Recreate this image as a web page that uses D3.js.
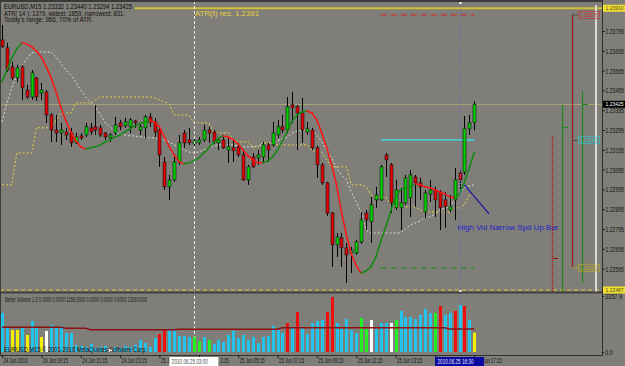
<!DOCTYPE html>
<html>
<head>
<meta charset="utf-8">
<script src="https://cdnjs.cloudflare.com/ajax/libs/d3/7.8.5/d3.min.js"></script>
<style>
  body { margin: 0; background: #7f7e79; }
  svg { display: block; }
  text { font-family: "Liberation Sans", Arial, sans-serif; }
</style>
</head>
<body>
<div id="chart"></div>
<script>
// EURUSD M15, one bar every 15 minutes from 24 Jun 2010 17:15
var opens = [1.23750,1.23710,1.23614,1.23558,1.23614,1.23497,1.23462,1.23558,1.23482,1.23487,
  1.23371,1.23295,1.23280,1.23285,1.23280,1.23230,1.23265,1.23270,1.23306,1.23311,
  1.23306,1.23280,1.23255,1.23280,1.23331,1.23316,1.23311,1.23341,1.23295,1.23306,
  1.23361,1.23336,1.23295,1.23134,1.23008,1.23043,1.23134,1.23280,1.23245,1.23225,
  1.23230,1.23245,1.23295,1.23285,1.23230,1.23245,1.23194,1.23205,1.23210,1.23169,
  1.23043,1.23159,1.23154,1.23159,1.23220,1.23220,1.23270,1.23311,1.23295,1.23422,
  1.23412,1.23381,1.23285,1.23295,1.23205,1.23119,1.23028,1.22876,1.22715,1.22750,
  1.22700,1.22674,1.22674,1.22730,1.22876,1.22831,1.22942,1.22942,1.23169,1.23119,
  1.22902,1.22902,1.22927,1.22952,1.23058,1.23028,1.22881,1.22972,1.22992,1.22982,
  1.22942,1.22891,1.22942,1.23078,1.23083,1.23301,1.23332];
var highs = [1.23826,1.23735,1.23639,1.23624,1.23624,1.23523,1.23598,1.23563,1.23533,1.23497,
  1.23381,1.23371,1.23331,1.23306,1.23306,1.23280,1.23280,1.23331,1.23331,1.23422,
  1.23321,1.23285,1.23280,1.23361,1.23346,1.23356,1.23356,1.23346,1.23331,1.23371,
  1.23381,1.23356,1.23306,1.23159,1.23068,1.23159,1.23270,1.23295,1.23306,1.23260,
  1.23260,1.23321,1.23311,1.23295,1.23260,1.23270,1.23255,1.23245,1.23230,1.23194,
  1.23119,1.23179,1.23194,1.23235,1.23230,1.23336,1.23346,1.23371,1.23462,1.23487,
  1.23422,1.23457,1.23336,1.23306,1.23215,1.23129,1.23033,1.22881,1.22775,1.22775,
  1.22725,1.22705,1.22740,1.22881,1.22891,1.22957,1.23008,1.23119,1.23179,1.23129,
  1.23043,1.23003,1.23068,1.23093,1.23068,1.23053,1.22992,1.23043,1.23008,1.22992,
  1.22982,1.22967,1.23104,1.23093,1.23366,1.23371,1.23440];
var lows = [1.23710,1.23588,1.23548,1.23538,1.23447,1.23452,1.23447,1.23442,1.23447,1.23331,
  1.23235,1.23235,1.23220,1.23245,1.23210,1.23225,1.23245,1.23260,1.23270,1.23270,
  1.23260,1.23245,1.23235,1.23270,1.23295,1.23306,1.23280,1.23306,1.23270,1.23255,
  1.23311,1.23260,1.23109,1.22992,1.22942,1.23033,1.23119,1.23205,1.23220,1.23210,
  1.23220,1.23235,1.23230,1.23225,1.23194,1.23200,1.23129,1.23134,1.23159,1.23038,
  1.23018,1.23104,1.23119,1.23129,1.23134,1.23210,1.23255,1.23280,1.23280,1.23331,
  1.23194,1.23230,1.23270,1.23194,1.23053,1.23018,1.22861,1.22604,1.22654,1.22604,
  1.22523,1.22573,1.22664,1.22720,1.22790,1.22725,1.22902,1.22937,1.23058,1.22876,
  1.22891,1.22790,1.22917,1.22856,1.22907,1.22942,1.22851,1.22932,1.22856,1.22790,
  1.22801,1.22881,1.22841,1.22992,1.23068,1.23270,1.23294];
var closes = [1.23715,1.23598,1.23558,1.23609,1.23508,1.23462,1.23583,1.23462,1.23497,1.23371,
  1.23295,1.23280,1.23295,1.23270,1.23230,1.23260,1.23255,1.23311,1.23285,1.23295,
  1.23270,1.23260,1.23270,1.23321,1.23311,1.23336,1.23346,1.23331,1.23311,1.23361,
  1.23331,1.23285,1.23169,1.23008,1.23043,1.23134,1.23230,1.23230,1.23230,1.23240,
  1.23245,1.23295,1.23280,1.23235,1.23245,1.23205,1.23210,1.23189,1.23169,1.23043,
  1.23109,1.23109,1.23169,1.23220,1.23194,1.23280,1.23311,1.23295,1.23412,1.23407,
  1.23381,1.23295,1.23301,1.23205,1.23119,1.23028,1.22876,1.22715,1.22755,1.22700,
  1.22664,1.22689,1.22730,1.22841,1.22841,1.22917,1.22967,1.23109,1.23144,1.22927,
  1.22992,1.22927,1.23053,1.23068,1.23028,1.23008,1.22977,1.22992,1.22942,1.22902,
  1.22907,1.22907,1.23043,1.23043,1.23301,1.23331,1.23425];

// two-colour moving average (green rising, red falling)
var maValues = [1.23538,1.23598,1.23659,1.23705,1.23735,1.23730,1.23715,1.23694,1.23664,1.23614,
  1.23558,1.23487,1.23407,1.23341,1.23285,1.23240,1.23210,1.23199,1.23205,1.23210,
  1.23220,1.23235,1.23245,1.23260,1.23270,1.23285,1.23301,1.23316,1.23326,1.23336,
  1.23341,1.23336,1.23311,1.23260,1.23210,1.23169,1.23134,1.23124,1.23129,1.23139,
  1.23154,1.23179,1.23205,1.23230,1.23255,1.23265,1.23260,1.23245,1.23225,1.23194,
  1.23164,1.23144,1.23129,1.23129,1.23139,1.23159,1.23194,1.23240,1.23290,1.23341,
  1.23371,1.23386,1.23391,1.23381,1.23346,1.23280,1.23205,1.23119,1.23018,1.22881,
  1.22765,1.22669,1.22609,1.22573,1.22583,1.22604,1.22654,1.22735,1.22806,1.22886,
  1.22957,1.22993,1.23003,1.23008,1.23023,1.23018,1.23008,1.23003,1.22993,1.22982,
  1.22972,1.22957,1.22952,1.22972,1.23033,1.23104,1.23184];

// white dotted band
var whiteBand = [1.23336,1.23432,1.23508,1.23573,1.23619,1.23654,1.23684,1.23689,1.23689,1.23689,
  1.23689,1.23664,1.23629,1.23598,1.23573,1.23538,1.23497,1.23462,1.23437,1.23412,
  1.23371,1.23331,1.23311,1.23285,1.23275,1.23270,1.23265,1.23265,1.23260,1.23260,
  1.23255,1.23255,1.23250,1.23245,1.23235,1.23220,1.23205,1.23194,1.23184,1.23179,
  1.23184,1.23194,1.23205,1.23215,1.23220,1.23220,1.23220,1.23220,1.23215,1.23210,
  1.23210,1.23210,1.23215,1.23220,1.23220,1.23230,1.23240,1.23250,1.23260,1.23280,
  1.23290,1.23295,1.23295,1.23295,1.23270,1.23235,1.23194,1.23154,1.23104,1.23068,
  1.23043,1.22982,1.22932,1.22881,1.22790,1.22775,1.22775,1.22775,1.22775,1.22775,
  1.22775,1.22775,1.22795,1.22816,1.22826,1.22836,1.22856,1.22856,1.22871,1.22891,
  1.22902,1.22907,1.22942,1.22977,1.23003,1.23013,1.23018];

// yellow dotted band
var yellowBand = [1.23018,1.23018,1.23018,1.23179,1.23179,1.23179,1.23179,1.23306,1.23306,1.23306,
  1.23306,1.23346,1.23381,1.23381,1.23381,1.23432,1.23432,1.23432,1.23432,1.23447,
  1.23462,1.23462,1.23462,1.23462,1.23462,1.23462,1.23462,1.23462,1.23462,1.23462,
  1.23462,1.23457,1.23447,1.23437,1.23427,1.23371,1.23371,1.23371,1.23371,1.23331,
  1.23331,1.23331,1.23331,1.23285,1.23280,1.23280,1.23280,1.23245,1.23235,1.23235,
  1.23235,1.23210,1.23210,1.23230,1.23230,1.23230,1.23220,1.23220,1.23220,1.23220,
  1.23220,1.23220,1.23220,1.23194,1.23184,1.23184,1.23144,1.23109,1.23109,1.23109,
  1.23109,1.23018,1.23018,1.23018,1.23008,1.22967,1.22957,1.22957,1.22957,1.22917,
  1.22907,1.22907,1.22907,1.22907,1.22907,1.22891,1.22881,1.22881,1.22881,1.22881,
  1.22881,1.22881,1.22902,1.22902,1.22917,1.22967,1.22967];

// Better Volume histogram
var volumes = [2340,1500,1320,1320,1500,1020,1860,1500,900,1260,
  1620,1500,1560,1140,1140,420,360,300,480,240,
  300,360,180,300,240,360,300,420,720,540,
  300,840,1080,1380,1320,1320,960,960,900,900,
  660,900,720,480,720,600,1020,1260,840,1020,
  720,900,540,900,960,1560,1320,1140,1740,1500,
  2400,1500,1080,1740,1860,1920,2400,3300,1740,1380,
  1980,1320,1140,2040,1380,1920,1380,1740,1740,1740,
  1920,2460,2100,2100,1980,2220,2580,2340,2340,2760,
  2220,2340,2460,2820,2760,1920,1159];
var volTypes = ['c','c','y','y','c','y','c','c','y','w',
  'c','c','c','c','c','c','c','c','c','c',
  'c','c','w','c','c','c','c','c','c','c',
  'c','c','r','r','c','c','c','c','c','g',
  'g','c','g','c','c','c','c','c','c','c',
  'c','c','c','c','c','c','c','c','r','c',
  'r','c','c','c','c','c','r','r','c','c',
  'c','c','c','g','g','w','c','c','c','w',
  'g','c','c','c','c','c','c','c','g','r',
  'c','c','r','c','r','c','y'];
var volAverage = [1480,1480,1480,1480,1480,1480,1480,1480,1480,1480,
  1480,1480,1480,1420,1420,1420,1420,1420,1340,1340,
  1340,1340,1340,1340,1340,1340,1340,1340,1340,1340,
  1340,1340,1340,1340,1340,1340,1360,1360,1360,1360,
  1360,1360,1360,1360,1360,1360,1360,1360,1360,1360,
  1360,1360,1360,1360,1360,1360,1360,1450,1450,1450,
  1450,1450,1450,1450,1450,1450,1450,1450,1450,1450,
  1450,1450,1450,1450,1450,1450,1450,1450,1450,1450,
  1450,1450,1450,1450,1450,1450,1450,1450,1450,1450,
  1450,1380,1380,1380,1380,1380,1380];
var volMax = 3357.9;

// price levels
var priceTicks = [1.22595,1.22695,1.22795,1.22895,1.22995,1.23095,1.23195,1.23295,1.23395,1.23495,1.23595,1.23695,1.23795];
var atrRes = 1.23910;
var supportLevel = 1.22487;
var bidPrice = 1.23425;
var rangeHigh = 1.23876, rangeMid = 1.23245, rangeLow = 1.22599;
// daily range columns on the right: [top, bottom, tick]
var rangeColTop = [1.23265, 1.23422, 1.23876, 1.23492];
var rangeColBottom = [1.22477, 1.22477, 1.22599, 1.22523];
var rangeColTick = [1.22649, 1.23311, 1.23245, 1.23427];
var timeTickBars = [0, 8, 16, 24, 32, 40, 48, 56, 64, 72, 80, 88, 96];
var annoBars = [94, 99], annoPrices = [1.23018, 1.22871];

var W = 625, H = 366;
var plotRight = 602;
var mainTop = 1, mainBottom = 292;
var volBottom = 355;

var startTime = new Date(2010, 5, 24, 17, 15);
var times = opens.map(function (d, i) { return d3.timeMinute.offset(startTime, 15 * i); });
var vLineTime = d3.timeMinute.offset(startTime, 15 * 39);   // 25 Jun 03:00
var nowTime = d3.timeMinute.offset(startTime, 15 * 93);     // 25 Jun 16:30

var x = d3.scaleTime().domain([times[0], times[96]]).range([2, 474.3]);
var y = d3.scaleLinear().domain([1.22595, 1.23795]).range([268.6, 31]);
var yv = d3.scaleLinear().domain([0, volMax]).range([352, 296]);

function cx(t) { return Math.round(x(t)); }

var svg = d3.select('#chart').append('svg')
  .attr('width', W)
  .attr('height', H);

svg.append('rect').attr('width', W).attr('height', H).attr('fill', '#7f7e79');

svg.append('clipPath').attr('id', 'mainClip').append('rect')
  .attr('x', 1).attr('y', mainTop + 1).attr('width', plotRight - 1).attr('height', mainBottom - mainTop - 1);

var main = svg.append('g').attr('clip-path', 'url(#mainClip)');

function addText(parent, str, tx, ty, len, size, color) {
  return parent.append('text')
    .attr('x', tx).attr('y', ty)
    .attr('textLength', len).attr('lengthAdjust', 'spacingAndGlyphs')
    .style('font-size', size + 'px').style('fill', color)
    .text(str);
}
// narrow text squeezed with a transform, for the axis labels
function narrowText(parent, str, tx, ty, sx, size, color) {
  return parent.append('text')
    .attr('transform', 'translate(' + tx + ',' + ty + ') scale(' + sx + ',1)')
    .style('font-size', size + 'px').style('fill', color)
    .text(str);
}

// horizontal level lines
main.append('line')
  .attr('x1', x(times[27])).attr('x2', plotRight)
  .attr('y1', y(atrRes)).attr('y2', y(atrRes))
  .attr('stroke', '#d2c035').attr('stroke-width', 2);
main.append('line')
  .attr('x1', 0).attr('x2', plotRight)
  .attr('y1', y(supportLevel)).attr('y2', y(supportLevel))
  .attr('stroke', '#e8c820').attr('stroke-dasharray', '4,3');
main.append('line')
  .attr('x1', 0).attr('x2', plotRight)
  .attr('y1', Math.round(y(bidPrice)) + 0.5).attr('y2', Math.round(y(bidPrice)) + 0.5)
  .attr('stroke', '#a9a270');
main.append('line')
  .attr('x1', x(times[77])).attr('x2', x(times[96]))
  .attr('y1', y(rangeHigh)).attr('y2', y(rangeHigh))
  .attr('stroke', '#e02020').attr('stroke-dasharray', '6,4');
main.append('line')
  .attr('x1', x(times[77])).attr('x2', x(times[96]))
  .attr('y1', y(rangeMid)).attr('y2', y(rangeMid))
  .attr('stroke', '#30e8f0').attr('stroke-width', 1.4);
main.append('line')
  .attr('x1', x(times[77])).attr('x2', x(times[96]))
  .attr('y1', y(rangeLow)).attr('y2', y(rangeLow))
  .attr('stroke', '#1c8c1c').attr('stroke-dasharray', '6,4');

// vertical time markers
svg.append('line')
  .attr('x1', cx(vLineTime) + 0.5).attr('x2', cx(vLineTime) + 0.5)
  .attr('y1', mainTop).attr('y2', 352)
  .attr('stroke', '#e8e8e8').attr('stroke-dasharray', '3,2');
svg.append('line')
  .attr('x1', cx(nowTime) + 0.5).attr('x2', cx(nowTime) + 0.5)
  .attr('y1', 3).attr('y2', 352)
  .attr('stroke', '#6a64c8').attr('stroke-dasharray', '1,2');

// bands
var bandLine = function (arr) {
  return d3.line()
    .x(function (d, i) { return x(times[i]); })
    .y(function (d) { return y(d); })(arr);
};
main.append('path').attr('d', bandLine(whiteBand))
  .attr('fill', 'none').attr('stroke', '#dcdcd2').attr('stroke-dasharray', '2,2');
main.append('path').attr('d', bandLine(yellowBand))
  .attr('fill', 'none').attr('stroke', '#e6d445').attr('stroke-dasharray', '2,2');

// candles
var bars = opens.map(function (o, i) {
  return { t: times[i], o: o, h: highs[i], l: lows[i], c: closes[i] };
});
var candle = main.selectAll('.candle').data(bars).enter().append('g').attr('class', 'candle');
candle.append('line')
  .attr('x1', function (d) { return cx(d.t) + 0.5; })
  .attr('x2', function (d) { return cx(d.t) + 0.5; })
  .attr('y1', function (d) { return y(d.h); })
  .attr('y2', function (d) { return y(d.l); })
  .attr('stroke', '#000');
candle.append('rect')
  .attr('x', function (d) { return cx(d.t) - 1; })
  .attr('width', 3)
  .attr('y', function (d) { return y(Math.max(d.o, d.c)); })
  .attr('height', function (d) { return Math.max(1, Math.abs(y(d.o) - y(d.c))); })
  .attr('fill', function (d) { return d.c >= d.o ? '#00d200' : '#e40000'; })
  .attr('stroke', '#111').attr('stroke-width', 0.6);

// moving average, coloured by direction
var maColor = '#108a10';
maValues.forEach(function (v, i) {
  if (i === maValues.length - 1) return;
  var next = maValues[i + 1];
  if (next > v) maColor = '#108a10';
  else if (next < v) maColor = '#ff1414';
  main.append('line')
    .attr('x1', x(times[i])).attr('y1', y(v))
    .attr('x2', x(times[i + 1])).attr('y2', y(next))
    .attr('stroke', maColor).attr('stroke-width', 1.5)
    .attr('stroke-linecap', 'round');
});

// annotation
main.append('line')
  .attr('x1', x(times[annoBars[0]])).attr('y1', y(annoPrices[0]))
  .attr('x2', x(d3.timeMinute.offset(startTime, 15 * annoBars[1]))).attr('y2', y(annoPrices[1]))
  .attr('stroke', '#1414a8').attr('stroke-width', 1.2);
addText(main, 'High Vol Narrow Spd Up Bar', x(times[93]) - 2, y(1.22790), 101, 8, '#2424c8');

// right-hand range columns
var colX = [552, 562, 572, 582];
var colColor = ['#b01818', '#1a8a1a', '#a01818', '#1a8a1a'];
colX.forEach(function (cxPos, i) {
  svg.append('line')
    .attr('x1', cxPos + 0.5).attr('x2', cxPos + 0.5)
    .attr('y1', y(rangeColTop[i])).attr('y2', Math.min(mainBottom, y(rangeColBottom[i])))
    .attr('stroke', colColor[i]).attr('stroke-width', i === 0 ? 1.5 : 1.2)
    .attr('stroke-dasharray', i === 0 ? '1,1' : null);
  svg.append('line')
    .attr('x1', cxPos).attr('x2', cxPos + 6)
    .attr('y1', Math.round(y(rangeColTick[i])) + 0.5).attr('y2', Math.round(y(rangeColTick[i])) + 0.5)
    .attr('stroke', i === 2 ? '#505050' : colColor[i]).attr('stroke-width', 1.2);
});
svg.append('line')
  .attr('x1', 572).attr('x2', 578)
  .attr('y1', y(rangeHigh)).attr('y2', y(rangeHigh)).attr('stroke', '#505050');
svg.append('line')
  .attr('x1', 572).attr('x2', 578)
  .attr('y1', y(rangeLow)).attr('y2', y(rangeLow)).attr('stroke', '#a0a040');
svg.append('line')
  .attr('x1', 596).attr('x2', 596)
  .attr('y1', 5).attr('y2', mainBottom)
  .attr('stroke', '#d8d8d8').attr('stroke-width', 2);

// price boxes next to the columns
[[rangeHigh, '#d03030', '1.23876'], [rangeMid, '#30c8d0', '1.23245'], [rangeLow, '#c0b020', '1.22599']]
  .forEach(function (b) {
    svg.append('rect')
      .attr('x', 578.5).attr('y', y(b[0]) - 3.5).attr('width', 21).attr('height', 7)
      .attr('fill', 'none').attr('stroke', b[1]).attr('stroke-dasharray', '2,1');
    narrowText(svg, b[2], 580, y(b[0]) + 2, 0.8, 6, b[1]);
  });

// header texts
addText(svg, 'EURUSD,M15  1.23332 1.23440 1.23294 1.23425', 4, 9, 128, 7, '#0a0a0a');
addText(svg, 'ATR( 14 ): 1379,  widest: 1859,  narrowest: 831.', 4, 15.5, 121, 7, '#111');
addText(svg, "Today's range: 966,  70% of ATR.", 4, 22, 89, 7, '#111');
addText(svg, 'ATR(t) res: 1.2391', 195, 15.5, 64, 7, '#e8d040');

// pane frames
svg.append('line').attr('x1', 0).attr('x2', plotRight).attr('y1', 1).attr('y2', 1).attr('stroke', '#3a3a3a').attr('stroke-width', 2);
svg.append('line').attr('x1', 0.5).attr('x2', 0.5).attr('y1', 0).attr('y2', volBottom).attr('stroke', '#3a3a3a');
svg.append('line').attr('x1', 0).attr('x2', plotRight).attr('y1', 292.5).attr('y2', 292.5).attr('stroke', '#404040').attr('stroke-width', 2);
svg.append('line').attr('x1', 0).attr('x2', plotRight + 1).attr('y1', volBottom + 0.5).attr('y2', volBottom + 0.5).attr('stroke', '#303030');
svg.append('line').attr('x1', plotRight + 0.5).attr('x2', plotRight + 0.5).attr('y1', 0).attr('y2', volBottom).attr('stroke', '#303030');

// small anchors of the current-time line
svg.append('rect').attr('x', cx(nowTime) - 0.5).attr('y', 2).attr('width', 2).attr('height', 2).attr('fill', '#fff');
svg.append('rect').attr('x', cx(nowTime) - 0.5).attr('y', 290).attr('width', 2).attr('height', 2).attr('fill', '#fff');

// volume pane
var volColorMap = { c: '#22c4ee', y: '#f4f000', w: '#ffffff', r: '#ee1010', g: '#22f022' };
svg.selectAll('.vol').data(volumes).enter().append('rect')
  .attr('class', 'vol')
  .attr('x', function (d, i) { return cx(times[i]) - 1; })
  .attr('width', 3)
  .attr('y', function (d) { return yv(d); })
  .attr('height', function (d) { return 352 - yv(d); })
  .attr('fill', function (d, i) { return volColorMap[volTypes[i]]; });

svg.append('path')
  .attr('d', d3.line()
    .x(function (d, i) { return x(times[i]); })
    .y(function (d) { return yv(d); })(volAverage))
  .attr('fill', 'none').attr('stroke', '#8c1010').attr('stroke-width', 1.5);

addText(svg, 'Better Volume 1.3 0.0000 0.0000 1159.0000 0.0000 0.0000 0.0000 1369.0000', 5, 302, 142, 7, '#1a1a1a');
addText(svg, 'EURUSD,M15 \u00a9 2001-2010 MetaQuotes Software Corp.', 4, 352, 143, 7, '#101010');

// price axis
var yAxis = svg.append('g')
  .attr('transform', 'translate(' + plotRight + ',0)')
  .call(d3.axisRight(y).tickValues(priceTicks).tickSize(3).tickFormat(d3.format('.5f')));
yAxis.select('.domain').remove();
yAxis.selectAll('line').attr('stroke', '#202020');
yAxis.selectAll('text')
  .attr('x', 0).attr('dy', '0.4em')
  .attr('transform', 'translate(3.5,0) scale(0.8,1)')
  .style('font-size', '6.4px').style('fill', '#141414');

function axisBox(price, bg, fg, txt) {
  svg.append('rect').attr('x', plotRight + 1).attr('y', y(price) - 3.5)
    .attr('width', W - plotRight).attr('height', 7).attr('fill', bg);
  narrowText(svg, txt, plotRight + 3.5, y(price) + 1.8, 0.8, 6.2, fg);
}
axisBox(atrRes, '#f2e030', '#4a4a20', '1.23910');
axisBox(bidPrice, '#000', '#fff', '1.23425');
axisBox(supportLevel, '#f2e030', '#4a4a20', '1.22487');

// volume axis
var vAxis = svg.append('g')
  .attr('transform', 'translate(' + plotRight + ',0)')
  .call(d3.axisRight(yv).tickValues([volMax, 0]).tickSize(2).tickFormat(d3.format('.1f')));
vAxis.select('.domain').remove();
vAxis.selectAll('line').attr('stroke', '#202020');
vAxis.selectAll('text')
  .attr('x', 0).attr('dy', '0.34em')
  .attr('transform', 'translate(3,0) scale(0.8,1)')
  .style('font-size', '7px').style('fill', '#141414');

// time axis; labels partly hidden by the highlighted boxes show only their visible part
var fmtFirst = d3.timeFormat('%d %b %Y');
var fmtTime = d3.timeFormat('%d %b %H:%M');
var partLabel = { 32: ['25 J', 1], 40: ['3:15', 21], 88: ['', 1], 96: ['un 17:15', 10] };
var xAxis = svg.append('g')
  .attr('transform', 'translate(0,' + volBottom + ')')
  .call(d3.axisBottom(x)
    .tickValues(timeTickBars.map(function (i) { return times[i]; }))
    .tickSize(3)
    .tickFormat(function (d, i) {
      var b = timeTickBars[i];
      if (partLabel[b]) return partLabel[b][0];
      return i === 0 ? fmtFirst(d) : fmtTime(d);
    }));
xAxis.select('.domain').remove();
xAxis.selectAll('line').attr('stroke', '#202020');
xAxis.selectAll('text')
  .attr('text-anchor', 'start').attr('x', 0).attr('y', 3).attr('dy', '0.78em')
  .attr('transform', function (d, i) {
    var b = timeTickBars[i];
    var off = partLabel[b] ? partLabel[b][1] : 1;
    return 'translate(' + off + ',0) scale(0.62,1)';
  })
  .style('font-size', '7px').style('fill', '#141414');

// highlighted time labels
function timeBox(t, bg, fg, txt) {
  svg.append('rect').attr('x', x(t) - 24.5).attr('y', 357)
    .attr('width', 49).attr('height', 9).attr('fill', bg);
  narrowText(svg, txt, x(t) - 22, 364, 0.66, 7, fg);
}
timeBox(vLineTime, '#ffffff', '#4a4a4a', '2010.06.25 03:00');
timeBox(nowTime, '#0a0aa0', '#e8e8ff', '2010.06.25 16:30');
</script>
</body>
</html>
